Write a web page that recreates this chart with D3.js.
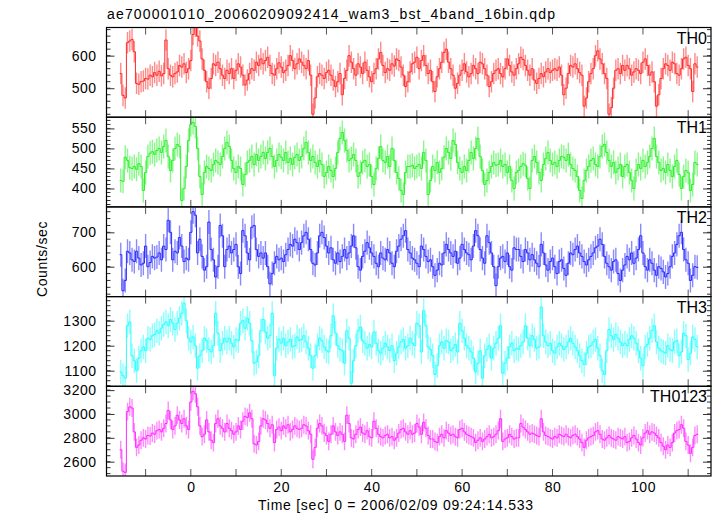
<!DOCTYPE html>
<html><head><meta charset="utf-8">
<script src="https://cdn.jsdelivr.net/npm/d3@7"></script>
<style>
body{margin:0;background:#fff}
text{font-family:"Liberation Sans",Arial,Helvetica,sans-serif;fill:#000}
</style>
</head><body>
<svg id="chart" width="717" height="516"></svg>
<script>
// ---------------- data (0.5 s bins) ----------------
const th0 = [
545,478,470,640,645,650,612,515,512,520,522,530,528,540,535,548,
540,552,538,545,648,560,540,535,545,550,570,565,575,548,560,585,
665,690,660,645,590,555,520,500,530,575,570,580,560,540,530,555,
545,560,530,555,575,565,540,510,525,545,560,555,580,570,590,575,
585,595,570,545,540,560,578,565,548,555,570,600,585,560,575,590,
580,570,560,585,540,420,470,535,545,540,530,548,555,540,525,505,
520,545,480,530,555,600,580,560,540,575,565,545,580,555,535,520,
545,560,590,610,570,548,560,555,575,568,590,585,565,540,505,520,
550,575,580,595,560,585,600,570,545,555,520,490,535,560,580,610,
620,580,560,540,500,515,540,555,575,550,535,545,570,560,545,580,
575,560,540,505,520,545,555,560,545,535,560,590,570,550,540,560,
575,595,588,570,555,540,560,525,515,530,545,535,550,560,548,555,
560,555,565,540,480,500,545,570,565,575,560,548,540,445,470,520,
545,560,600,615,590,575,545,530,420,440,500,555,560,545,570,555,
570,560,540,550,560,555,545,580,590,570,540,550,520,445,480,530,
560,575,570,555,580,575,545,540,560,590,595,570,560,490,575,565];
const th1 = [
420,418,478,470,452,450,455,448,462,455,395,440,480,488,492,485,
495,500,490,505,520,480,445,470,500,510,505,370,400,455,520,560,
565,555,500,430,385,440,455,450,445,460,470,465,460,480,500,515,
505,470,450,440,455,450,410,435,465,470,480,460,485,470,480,490,
475,490,500,480,455,470,485,478,470,490,465,475,460,478,485,470,
480,500,515,490,470,480,465,455,470,460,430,440,455,445,430,450,
490,525,540,520,495,470,475,485,470,430,440,465,470,455,460,430,
410,450,475,505,470,465,480,455,500,470,440,425,395,385,440,455,
455,458,450,455,460,450,490,470,385,420,455,445,465,440,450,478,
500,490,475,520,510,465,450,440,455,445,470,490,475,500,525,480,
445,410,420,440,455,465,458,460,470,455,460,440,455,420,400,440,
445,455,462,458,425,400,470,480,465,440,420,460,475,490,470,460,
465,455,470,480,478,470,485,460,450,445,430,395,375,420,445,455,
470,475,460,455,480,505,510,490,470,455,465,440,450,460,430,455,
460,440,420,400,445,460,450,470,455,465,480,500,525,480,465,445,
450,440,460,445,430,455,470,435,400,430,445,440,395,410,465,460];
const th2 = [
635,530,560,645,640,620,615,645,625,605,610,660,600,612,630,625,
628,640,620,660,650,735,700,620,645,640,685,660,615,625,620,700,
760,750,640,680,630,590,600,730,650,620,570,600,720,690,600,650,
660,640,650,665,600,580,705,690,640,620,715,720,650,630,640,625,
640,600,550,580,610,630,620,625,615,635,650,665,660,680,670,650,
670,690,700,680,650,610,605,640,690,700,685,660,640,655,620,610,
640,615,630,650,625,640,660,690,655,600,590,630,645,670,655,640,
630,610,600,640,625,620,650,640,610,600,645,660,680,690,705,650,
640,625,620,610,600,660,650,630,615,620,600,575,590,610,605,640,
665,650,640,630,645,610,625,665,650,640,635,620,660,705,690,650,
625,610,690,670,640,600,545,600,625,630,615,640,600,590,655,650,
650,630,615,650,640,620,635,620,610,600,665,640,605,590,615,625,
600,580,615,620,595,575,610,640,635,650,660,640,630,615,605,620,
630,640,655,660,680,665,630,610,600,590,615,620,580,560,590,605,
630,620,640,610,625,650,690,640,600,590,620,610,590,575,600,595,
585,570,580,600,630,640,665,690,700,650,620,610,560,575,600,598];
const th3 = [
1095,1080,1070,1280,1295,1160,1140,1100,1150,1180,1195,1180,1230,1225,1240,1245,
1260,1250,1270,1285,1295,1280,1305,1290,1265,1290,1310,1330,1370,1300,1230,1215,
1235,1200,1110,1160,1180,1230,1220,1185,1175,1200,1330,1250,1180,1210,1230,1215,
1230,1210,1195,1225,1220,1290,1300,1270,1310,1290,1220,1130,1135,1160,1260,1305,
1255,1230,1240,1330,1080,1190,1225,1210,1230,1200,1215,1225,1195,1200,1235,1220,
1225,1240,1215,1190,1160,1110,1160,1200,1230,1220,1195,1180,1175,1240,1320,1250,
1200,1185,1180,1130,1260,1230,1050,1140,1200,1260,1275,1220,1210,1190,1205,1195,
1255,1210,1180,1170,1190,1210,1195,1180,1200,1140,1170,1195,1215,1225,1190,1200,
1230,1210,1200,1290,1280,1175,1340,1280,1195,1185,1160,1085,1120,1200,1215,1190,
1220,1215,1180,1190,1205,1175,1290,1260,1230,1200,1190,1175,1150,1095,1130,1180,
1070,1160,1185,1200,1150,1190,1210,1230,1280,1090,1130,1150,1195,1210,1180,1190,
1185,1200,1215,1280,1230,1200,1240,1225,1190,1195,1355,1240,1215,1200,1210,1180,
1170,1195,1210,1200,1185,1195,1215,1230,1210,1195,1180,1160,1140,1125,1170,1195,
1200,1215,1225,1190,1160,1100,1085,1180,1265,1240,1225,1245,1230,1215,1200,1210,
1200,1225,1240,1230,1210,1180,1150,1120,1195,1205,1230,1260,1280,1215,1190,1180,
1175,1170,1200,1185,1180,1215,1220,1160,1175,1250,1240,1145,1170,1235,1225,1195];
const th0123 = [
2700,2520,2510,3020,3060,3050,2850,2720,2740,2780,2800,2790,2820,2815,2840,2830,
2860,2870,2850,2880,2920,3030,2950,2870,2900,2990,2950,2920,2960,2900,2870,3100,
3190,3170,3060,2900,2810,2830,2950,2850,2780,2760,2920,2960,2900,2880,2850,2920,
2880,2860,2830,2850,2900,2870,2940,2980,2970,3010,2960,2750,2740,2770,2900,2960,
2950,2920,2880,2910,2760,2870,2890,2860,2900,2880,2910,2850,2870,2900,2880,2870,
2880,2910,2900,2860,2830,2620,2720,2880,2920,2900,2840,2820,2770,2830,2900,2850,
2820,2850,2830,2770,2990,2920,2800,2790,2830,2870,2890,2840,2830,2860,2810,2800,
2940,2880,2830,2810,2800,2820,2830,2800,2810,2780,2800,2840,2870,2880,2850,2830,
2860,2830,2840,2920,2890,2830,2930,2880,2820,2790,2790,2770,2760,2810,2830,2800,
2860,2840,2820,2830,2810,2800,2870,2880,2850,2830,2820,2810,2800,2760,2780,2800,
2770,2790,2810,2830,2800,2810,2830,2860,2960,2770,2790,2800,2830,2810,2790,2800,
2800,2920,2890,2870,2850,2830,2840,2830,2820,2810,2960,2850,2820,2810,2800,2790,
2810,2800,2830,2820,2810,2830,2810,2800,2820,2830,2810,2790,2760,2720,2780,2800,
2810,2820,2850,2860,2830,2790,2780,2800,2820,2800,2790,2780,2810,2800,2790,2810,
2760,2770,2800,2820,2790,2760,2740,2800,2840,2860,2830,2850,2840,2820,2800,2760,
2730,2700,2740,2720,2760,2840,2860,2870,2910,2880,2770,2740,2670,2720,2820,2830];

const bandNames = ["TH0","TH1","TH2","TH3","TH0123"];
const bandErrors = [33, 30, 35, 49, 75];          // typical 1-sigma half-width, c/s
const yLabels0 = [500, 600];
const yLabels1 = [400, 450, 500, 550];
const yLabels2 = [600, 700];
const yLabels3 = [1100, 1200, 1300];
const yLabels4 = [2600, 2800, 3000, 3200];
const xLabels = [0, 20, 40, 60, 80, 100];
const tStart = -15.75, binWidth = 0.5;
const titleText = "ae700001010_20060209092414_wam3_bst_4band_16bin.qdp";
const xTitle = "Time [sec] 0 = 2006/02/09 09:24:14.533";
const yTitle = "Counts/sec";

// ---------------- layout ----------------
const series = [th0, th1, th2, th3, th0123];
const yLabelSets = [yLabels0, yLabels1, yLabels2, yLabels3, yLabels4];
const colors = ["#ff2a2a", "#2af02a", "#2a2aff", "#2affff", "#ff2aff"];
const yDomains = [[411, 686.5], [354, 578], [513, 774], [1037.6, 1396.4], [2480, 3232]];
const minorSteps = [20, 10, 20, 20, 50];

const L = 106.5, R = 711, T = 27.5, PH = 89.7;
const FONT = "Liberation Sans, Arial, sans-serif";
const svg = d3.select("#chart");
const x = d3.scaleLinear().domain([-18.65, 115.05]).range([L, R]);

svg.append("text").attr("x", 107).attr("y", 19).attr("font-size", 14)
  .attr("textLength", 448).attr("lengthAdjust", "spacing").text(titleText);

const defs = svg.append("defs");

series.forEach((vals, p) => {
  const top = T + p * PH, bot = top + PH;
  const y = d3.scaleLinear().domain(yDomains[p]).range([bot, top]);
  const g = svg.append("g");
  defs.append("clipPath").attr("id", "clip" + p)
    .append("rect").attr("x", L).attr("y", top).attr("width", R - L).attr("height", PH);
  const plot = g.append("g").attr("clip-path", `url(#clip${p})`);

  const bins = vals.map((v, i) => ({
    t0: tStart + i * binWidth, t1: tStart + (i + 1) * binWidth,
    tc: tStart + (i + 0.5) * binWidth, v
  }));
  // error bars
  plot.selectAll("line.err").data(bins).join("line")
    .attr("x1", d => x(d.tc)).attr("x2", d => x(d.tc))
    .attr("y1", d => y(d.v - bandErrors[p])).attr("y2", d => y(d.v + bandErrors[p]))
    .attr("stroke", colors[p]).attr("stroke-opacity", 0.55).attr("stroke-width", 1.4);
  // step line
  const pts = [];
  bins.forEach(d => { pts.push([d.t0, d.v]); pts.push([d.t1, d.v]); });
  plot.append("path").attr("d", d3.line().x(d => x(d[0])).y(d => y(d[1]))(pts))
    .attr("fill", "none").attr("stroke", colors[p]).attr("stroke-width", 1);

  // y ticks: minor
  const [d0, d1] = yDomains[p];
  const ms = minorSteps[p];
  const minors = d3.range(Math.ceil(d0 / ms) * ms, d1 + 0.001, ms);
  g.selectAll("line.ym").data(minors).join("line")
    .attr("x1", L).attr("x2", L + 4).attr("y1", d => y(d)).attr("y2", d => y(d))
    .attr("stroke", "#333").attr("stroke-width", 1);
  g.selectAll("line.ymr").data(minors).join("line")
    .attr("x1", R).attr("x2", R - 4).attr("y1", d => y(d)).attr("y2", d => y(d))
    .attr("stroke", "#333").attr("stroke-width", 1);
  // y major ticks + labels via axis
  const ax = g.append("g").attr("transform", `translate(${L},0)`)
    .call(d3.axisLeft(y).tickValues(yLabelSets[p]).tickSize(-8).tickPadding(10).tickFormat(d3.format("d")));
  ax.select(".domain").remove();
  ax.selectAll("line").attr("stroke", "#333");
  ax.selectAll("text").attr("font-size", 14).attr("font-family", FONT).attr("fill", "#000")
    .style("letter-spacing", "0.5px");
  const axr = g.append("g").attr("transform", `translate(${R},0)`)
    .call(d3.axisRight(y).tickValues(yLabelSets[p]).tickSize(-8).tickFormat(""));
  axr.select(".domain").remove();
  axr.selectAll("line").attr("stroke", "#333");

  // x ticks top and bottom
  const xt = d3.range(-10, 115, 10);
  g.selectAll("line.xb").data(xt).join("line")
    .attr("x1", d => x(d)).attr("x2", d => x(d)).attr("y1", bot).attr("y2", bot - 7)
    .attr("stroke", "#555").attr("stroke-width", 1);
  g.selectAll("line.xt").data(xt).join("line")
    .attr("x1", d => x(d)).attr("x2", d => x(d)).attr("y1", top).attr("y2", top + 7)
    .attr("stroke", "#555").attr("stroke-width", 1);

  // frame
  g.append("rect").attr("x", L).attr("y", top).attr("width", R - L).attr("height", PH)
    .attr("fill", "none").attr("stroke", "#000").attr("stroke-width", 1.2);

  // panel name
  g.append("text").attr("x", 707).attr("y", top + 16).attr("text-anchor", "end")
    .attr("font-size", 16).text(bandNames[p]);

  if (p === series.length - 1) {
    const xa = svg.append("g").attr("transform", `translate(0,${bot})`)
      .call(d3.axisBottom(x).tickValues(xLabels).tickSize(0).tickPadding(6).tickFormat(d3.format("d")));
    xa.select(".domain").remove();
    xa.selectAll("text").attr("font-size", 14).attr("font-family", FONT).attr("fill", "#000")
      .style("letter-spacing", "0.6px");
  }
});

svg.append("text").attr("x", 258).attr("y", 510)
  .attr("font-size", 14).attr("textLength", 275).attr("lengthAdjust", "spacing").text(xTitle);
svg.append("text").attr("transform", "translate(47,259) rotate(-90)").attr("text-anchor", "middle")
  .attr("font-size", 14).style("letter-spacing", "0.6px").text(yTitle);
</script>
</body></html>
